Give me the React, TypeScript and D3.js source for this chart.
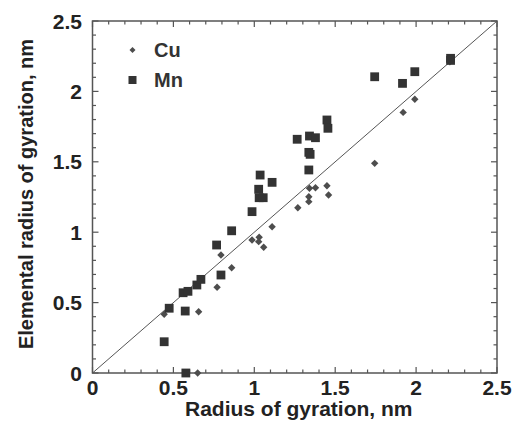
import React from "react";
import * as d3 from "d3";

const mnX = [0.443, 0.577, 0.573, 0.474, 0.56, 0.59, 0.645, 0.67, 0.794, 0.767, 0.86, 0.986, 1.03, 1.055, 1.027, 1.036, 1.11, 1.265, 1.337, 1.337, 1.345, 1.341, 1.378, 1.449, 1.455, 1.744, 1.916, 1.992, 2.213, 2.213];
const mnY = [0.222, 0.0, 0.44, 0.46, 0.57, 0.58, 0.625, 0.665, 0.696, 0.909, 1.01, 1.146, 1.245, 1.245, 1.305, 1.406, 1.354, 1.66, 1.442, 1.567, 1.553, 1.683, 1.671, 1.797, 1.738, 2.104, 2.057, 2.14, 2.235, 2.22];

const cuX = [0.443, 0.656, 0.65, 0.77, 0.86, 0.794, 0.986, 1.03, 1.027, 1.058, 1.11, 1.269, 1.341, 1.378, 1.337, 1.337, 1.449, 1.459, 1.744, 1.92, 1.992, 2.209];
const cuY = [0.417, 0.435, 0.0, 0.609, 0.748, 0.838, 0.945, 0.964, 0.933, 0.893, 1.039, 1.174, 1.312, 1.316, 1.252, 1.217, 1.33, 1.264, 1.489, 1.851, 1.944, 2.211];

const majorTicks = [0, 0.5, 1, 1.5, 2, 2.5];
const tickLabels = ["0", "0.5", "1", "1.5", "2", "2.5"];
const seriesNames = ["Cu", "Mn"];

const W = 520;
const H = 428;
const left = 92.5;
const right = 497;
const top = 21;
const bottom = 373;

export default function App() {
  const x = d3.scaleLinear().domain([0, 2.5]).range([left, right]);
  const y = d3.scaleLinear().domain([0, 2.5]).range([bottom, top]);
  const minor = d3.range(0, 2.5001, 0.1).map((v) => Math.round(v * 10) / 10);
  const isMajor = (v: number) => Math.abs(v * 2 - Math.round(v * 2)) < 1e-6;
  const axisColor = "#555";
  const font = "Helvetica, 'Liberation Sans', Arial, sans-serif";
  const sq = 8.8;
  const dm = 3.7;
  const diamond = (cx: number, cy: number, r: number = dm) =>
    `M${cx},${cy - r}L${cx + r},${cy}L${cx},${cy + r}L${cx - r},${cy}Z`;

  return (
    <div style={{ position: "fixed", left: 0, top: 0 }}>
      <svg width={W} height={H} style={{ display: "block", background: "#fff" }}>
        <line x1={x(0)} y1={y(0)} x2={x(2.5)} y2={y(2.5)} stroke="#555" strokeWidth={1} />
        {minor.map((v, i) => {
          const L = isMajor(v) ? 6 : 3.5;
          return (
            <g key={i} stroke={axisColor} strokeWidth={1.2}>
              <line x1={x(v)} x2={x(v)} y1={bottom} y2={bottom - L} />
              <line x1={x(v)} x2={x(v)} y1={top} y2={top + L} />
              <line y1={y(v)} y2={y(v)} x1={left} x2={left + L} />
              <line y1={y(v)} y2={y(v)} x1={right} x2={right - L} />
            </g>
          );
        })}
        <rect x={left} y={top} width={right - left} height={bottom - top} fill="none" stroke={axisColor} strokeWidth={1.5} />
        {cuX.map((v, i) => (
          <path key={"c" + i} d={diamond(x(v), y(cuY[i]))} fill="#4d4d4d" />
        ))}
        {mnX.map((v, i) => (
          <rect key={"m" + i} x={x(v) - sq / 2} y={y(mnY[i]) - sq / 2} width={sq} height={sq} fill="#333" />
        ))}
        {majorTicks.map((v, i) => (
          <text key={"xl" + i} x={x(v)} y={395} textAnchor="middle" fontFamily={font} fontWeight="bold" fontSize={21} fill="#222">
            {tickLabels[i]}
          </text>
        ))}
        {majorTicks.map((v, i) => (
          <text key={"yl" + i} x={82} y={y(v)} dy="0.36em" textAnchor="end" fontFamily={font} fontWeight="bold" fontSize={21} fill="#222">
            {tickLabels[i]}
          </text>
        ))}
        <text x={(left + right) / 2 + 4} y={416} textAnchor="middle" fontFamily={font} fontWeight="bold" fontSize={21} fill="#222">
          Radius of gyration, nm
        </text>
        <text transform={`translate(33,${(top + bottom) / 2 - 3}) rotate(-90)`} textAnchor="middle" fontFamily={font} fontWeight="bold" fontSize={20} fill="#222">
          Elemental radius of gyration, nm
        </text>
        <path d={diamond(132.5, 50, 3)} fill="#4d4d4d" />
        <text x={154} y={57} fontFamily={font} fontWeight="bold" fontSize={20} fill="#333">{seriesNames[0]}</text>
        <rect x={132.5 - 4} y={80 - 4} width={8} height={8} fill="#333" />
        <text x={154} y={87} fontFamily={font} fontWeight="bold" fontSize={20} fill="#333">{seriesNames[1]}</text>
      </svg>
    </div>
  );
}
